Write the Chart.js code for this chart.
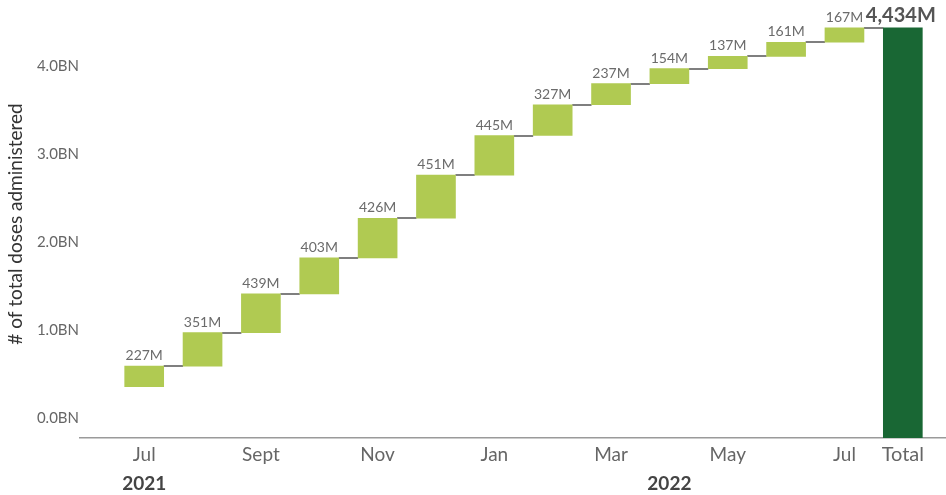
<!DOCTYPE html>
<html><head><meta charset="utf-8">
<script src="https://cdn.jsdelivr.net/npm/chart.js@4/dist/chart.umd.min.js"></script>
<style>html,body{margin:0;padding:0;background:#fff}#wrap{width:946px;height:495px}</style>
</head><body><div id="wrap"><canvas id="c" width="946" height="495"></canvas></div>
<script>
// ---- data ----
const categories = ['Jul','Aug','Sept','Oct','Nov','Dec','Jan','Feb','Mar','Apr','May','Jun','Jul','Total'];
const xTickLabels = ['Jul','','Sept','','Nov','','Jan','','Mar','','May','','Jul','Total'];
const monthlyM = [227,351,439,403,426,451,445,327,237,154,137,161,167];
// cumulative doses (BN) before Jul 2021 and at the end of each month
const cumulativeBN = [0.356,0.59,0.97,1.41,1.82,2.27,2.76,3.21,3.56,3.80,3.97,4.11,4.27,4.434];
const totalM = 4434;
const yTickValues = [0,1,2,3,4];
const yearLabels = ['2021','2022'];
const yearCategoryIndex = [0,9];

const FONT = 'Lato, "Open Sans", sans-serif';
const Y_MIN = -0.2273, Y_MAX = 4.6364;
const nMonths = monthlyM.length;

const waterfall = monthlyM.map((v,i)=>({x:i, y:[cumulativeBN[i], cumulativeBN[i+1]]}));
const totalData = [{x:nMonths, y: totalM/1000}];

const connectors = {
  id:'connectors',
  beforeDatasetsDraw(chart){
    const {ctx, scales:{x,y}} = chart;
    const half = 19.5;
    ctx.save();
    ctx.strokeStyle = '#7f7f7f';
    ctx.lineWidth = 2;
    for(let i=0;i<nMonths;i++){
      const lvl = cumulativeBN[i+1];
      const py = Math.round(y.getPixelForValue(lvl));
      ctx.beginPath();
      ctx.moveTo(x.getPixelForValue(i)+half, py);
      ctx.lineTo(x.getPixelForValue(i+1)-half, py);
      ctx.stroke();
    }
    ctx.restore();
  }
};

const labels = {
  id:'valueLabels',
  afterDatasetsDraw(chart){
    const {ctx, scales:{x,y}} = chart;
    ctx.save();
    ctx.textAlign = 'center';
    ctx.textBaseline = 'alphabetic';
    ctx.fillStyle = '#6b6b6b';
    ctx.font = '14px ' + FONT;
    monthlyM.forEach((v,i)=>{
      ctx.fillText(v + 'M', x.getPixelForValue(i), y.getPixelForValue(cumulativeBN[i+1]) - 6);
    });
    ctx.fillStyle = '#555555';
    ctx.font = 'bold 20px ' + FONT;
    ctx.fillText(totalM.toLocaleString('en-US') + 'M', x.getPixelForValue(nMonths) - 2, y.getPixelForValue(totalM/1000) - 6);
    // year labels
    ctx.fillStyle = '#444444';
    ctx.font = 'bold 19px ' + FONT;
    ctx.textBaseline = 'middle';
    yearLabels.forEach((t,k)=>{
      ctx.fillText(t, x.getPixelForValue(yearCategoryIndex[k]), chart.chartArea.bottom + 46);
    });
    ctx.restore();
  }
};

new Chart(document.getElementById('c'), {
  type:'bar',
  data:{
    datasets:[
      {label:'Monthly doses', data: waterfall, backgroundColor:'#b0ca52', barThickness:39, grouped:false},
      {label:'Total', data: totalData, backgroundColor:'#196734', barThickness:39, grouped:false, base: Y_MIN}
    ]
  },
  options:{
    responsive:false, animation:false, devicePixelRatio:1,
    layout:{padding:{top:10,left:0,right:0,bottom:0}},
    plugins:{legend:{display:false}, tooltip:{enabled:false}},
    scales:{
      x:{
        type:'linear', min:-1.1, max:13.74, offset:false,
        afterBuildTicks(s){ s.ticks = categories.map((_,i)=>({value:i})); },
        afterFit(s){ s.height = 57; },
        grid:{display:false, drawTicks:false, offset:false},
        border:{display:true, color:'#9a9a9a', width:1.5},
        ticks:{
          autoSkip:false, maxRotation:0, padding:5,
          color:'#666666',
          font:(c)=>({family:FONT, size: (c.tick && c.tick.value===nMonths) ? 20 : 19}),
          callback:(v)=> Number.isInteger(v) ? (xTickLabels[v] ?? '') : ''
        }
      },
      y:{
        min:Y_MIN, max:Y_MAX,
        afterBuildTicks(s){ s.ticks = yTickValues.map(v=>({value:v})); },
        afterFit(s){ s.width = 80; },
        grid:{display:false, drawTicks:false},
        border:{display:false},
        ticks:{padding:1, color:'#666666', font:{family:FONT, size:15},
          callback:(v)=> v.toFixed(1) + 'BN'},
        title:{display:true, text:'# of total doses administered', color:'#333333',
          font:{family:FONT, size:19}, padding:{top:4,bottom:0}}
      }
    }
  },
  plugins:[connectors, labels]
});
</script>
</body></html>
